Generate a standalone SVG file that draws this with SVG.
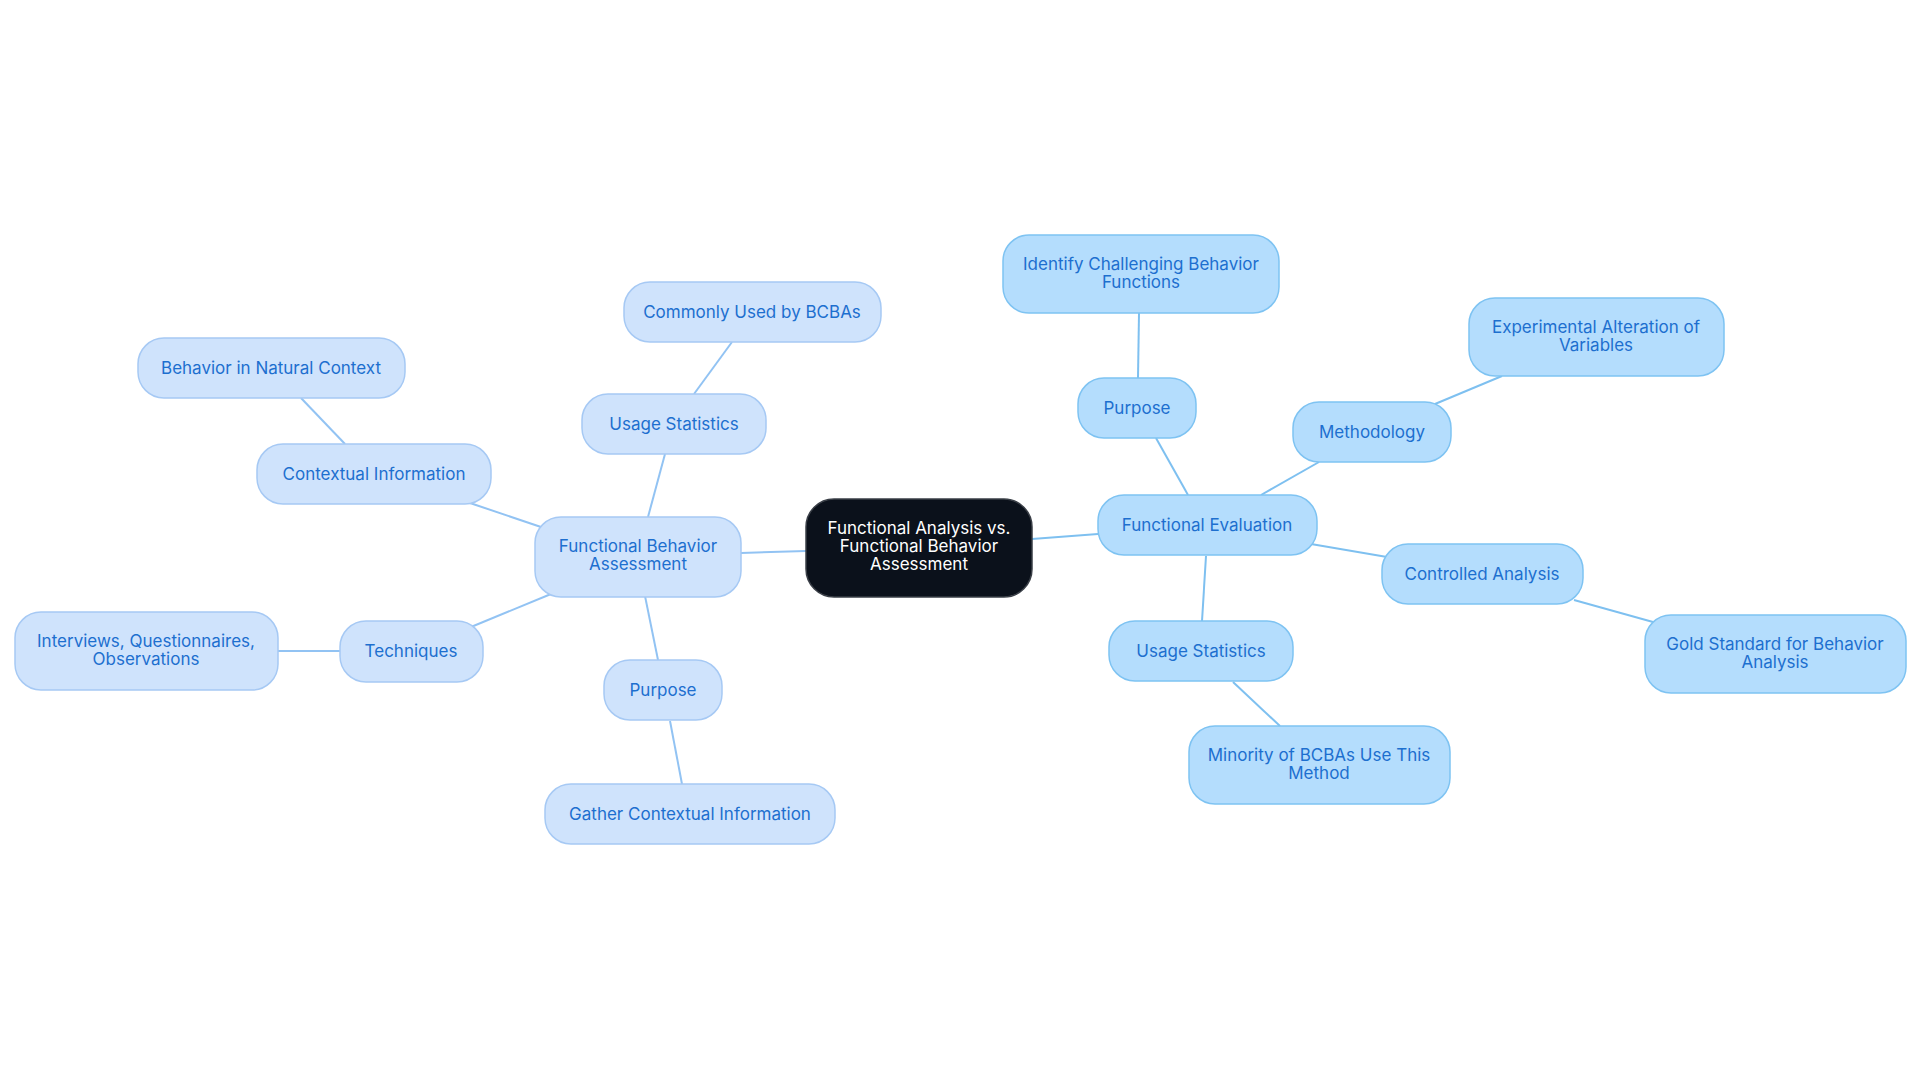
<svg xmlns="http://www.w3.org/2000/svg" width="1920" height="1083" viewBox="0 0 1920 1083">
<style>
text{font-family:Inter,"Noto Sans",sans-serif;font-size:17px;text-anchor:middle;dominant-baseline:central}
.l rect{fill:#cfe3fc;stroke:#a6c9f4;stroke-width:1.5}
.r rect{fill:#b4ddfd;stroke:#7ec3f2;stroke-width:1.5}
.l text,.r text{fill:#1d6fcf}
.c rect{fill:#0b111b;stroke:#3a3f47;stroke-width:1.5}
.c text{fill:#fff}
#edges line{stroke-width:2}
.el{stroke:#92c3f3}.er{stroke:#7ec0f0}
</style>
<rect width="1920" height="1083" fill="#fff"/>
<g id="edges">
<line class="el" x1="741" y1="553" x2="806" y2="551"/>
<line class="el" x1="648" y1="517" x2="665" y2="454"/>
<line class="el" x1="694" y1="394" x2="732" y2="342"/>
<line class="el" x1="541" y1="527" x2="470" y2="503"/>
<line class="el" x1="345" y1="444" x2="301" y2="398"/>
<line class="el" x1="551" y1="594" x2="471" y2="627"/>
<line class="el" x1="340" y1="651" x2="278" y2="651"/>
<line class="el" x1="645" y1="596" x2="658" y2="660"/>
<line class="el" x1="670" y1="721" x2="682" y2="784"/>
<line class="er" x1="1032" y1="539" x2="1098" y2="534"/>
<line class="er" x1="1188" y1="495" x2="1156" y2="438"/>
<line class="er" x1="1138" y1="378" x2="1139" y2="313"/>
<line class="er" x1="1261" y1="495" x2="1319" y2="462"/>
<line class="er" x1="1435" y1="404" x2="1502" y2="376"/>
<line class="er" x1="1311" y1="544" x2="1387" y2="557"/>
<line class="er" x1="1574" y1="600" x2="1653" y2="622"/>
<line class="er" x1="1206" y1="556" x2="1202" y2="621"/>
<line class="er" x1="1233" y1="682" x2="1280" y2="726"/>
</g>
<g id="center" class="c"><rect x="806" y="499" width="226" height="98" rx="28"/><text x="919" y="528">Functional Analysis vs.</text><text x="919" y="546">Functional Behavior</text><text x="919" y="564">Assessment</text></g>
<g id="fba" class="l"><rect x="535" y="517" width="206" height="80" rx="26"/><text x="638" y="546">Functional Behavior</text><text x="638" y="564">Assessment</text></g>
<g id="usageL" class="l"><rect x="582" y="394" width="184" height="60" rx="26"/><text x="674" y="424">Usage Statistics</text></g>
<g id="commonly" class="l"><rect x="624" y="282" width="257" height="60" rx="26"/><text x="752" y="312">Commonly Used by BCBAs</text></g>
<g id="contextual" class="l"><rect x="257" y="444" width="234" height="60" rx="26"/><text x="374" y="474">Contextual Information</text></g>
<g id="natural" class="l"><rect x="138" y="338" width="267" height="60" rx="26"/><text x="271" y="368">Behavior in Natural Context</text></g>
<g id="techniques" class="l"><rect x="340" y="621" width="143" height="61" rx="26"/><text x="411" y="651">Techniques</text></g>
<g id="interviews" class="l"><rect x="15" y="612" width="263" height="78" rx="26"/><text x="146" y="641">Interviews, Questionnaires,</text><text x="146" y="659">Observations</text></g>
<g id="purposeL" class="l"><rect x="604" y="660" width="118" height="60" rx="26"/><text x="663" y="690">Purpose</text></g>
<g id="gather" class="l"><rect x="545" y="784" width="290" height="60" rx="26"/><text x="690" y="814">Gather Contextual Information</text></g>
<g id="fe" class="r"><rect x="1098" y="495" width="219" height="60" rx="26"/><text x="1207" y="525">Functional Evaluation</text></g>
<g id="purposeR" class="r"><rect x="1078" y="378" width="118" height="60" rx="26"/><text x="1137" y="408">Purpose</text></g>
<g id="identify" class="r"><rect x="1003" y="235" width="276" height="78" rx="26"/><text x="1141" y="264">Identify Challenging Behavior</text><text x="1141" y="282">Functions</text></g>
<g id="methodology" class="r"><rect x="1293" y="402" width="158" height="60" rx="26"/><text x="1372" y="432">Methodology</text></g>
<g id="experimental" class="r"><rect x="1469" y="298" width="255" height="78" rx="26"/><text x="1596" y="327">Experimental Alteration of</text><text x="1596" y="345">Variables</text></g>
<g id="controlled" class="r"><rect x="1382" y="544" width="201" height="60" rx="26"/><text x="1482" y="574">Controlled Analysis</text></g>
<g id="gold" class="r"><rect x="1645" y="615" width="261" height="78" rx="26"/><text x="1775" y="644">Gold Standard for Behavior</text><text x="1775" y="662">Analysis</text></g>
<g id="usageR" class="r"><rect x="1109" y="621" width="184" height="60" rx="26"/><text x="1201" y="651">Usage Statistics</text></g>
<g id="minority" class="r"><rect x="1189" y="726" width="261" height="78" rx="26"/><text x="1319" y="755">Minority of BCBAs Use This</text><text x="1319" y="773">Method</text></g>
</svg>
